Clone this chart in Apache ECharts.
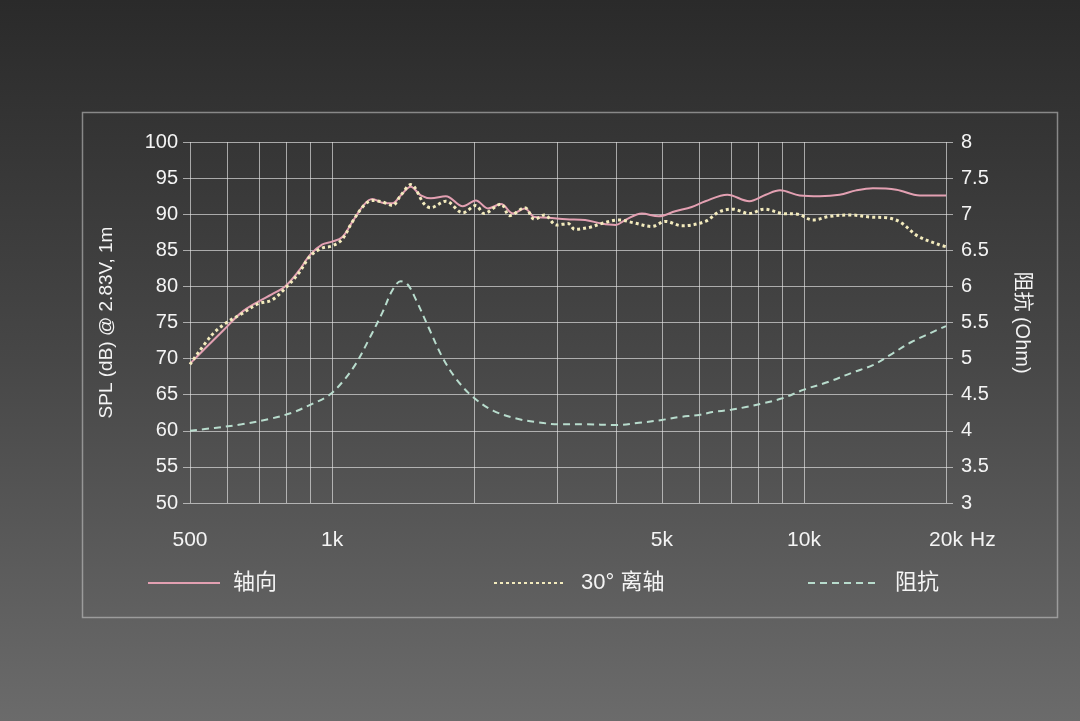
<!DOCTYPE html>
<html><head><meta charset="utf-8">
<script src="https://cdn.jsdelivr.net/npm/echarts@6/dist/echarts.min.js"></script>
<style>html,body{margin:0;padding:0;background:#444}#c{width:1080px;height:721px}</style>
</head><body><div id="c"></div>
<script>
// Frequency grid and labelled ticks (Hz)
const gridFreqs = [500,600,700,800,900,1000,2000,3000,4000,5000,6000,7000,8000,9000,10000,20000];
const labelFreqs = [500,1000,5000,10000,20000];

// 轴向 (on-axis SPL, dB)
const axialFreq = [500,540,590,643,698,745,795,849,899,952,1000,1050,1103,1168,1217,1278,1342,1398,1468,1542,1620,1742,1893,2017,2140,2280,2420,2562,2686,2874,3136,3438,3722,3988,4185,4533,4923,5335,5783,6180,6880,7660,8300,8900,9800,10800,11900,12900,14000,15700,17600,19300,20000];
const axialSPL  = [69.3,71.5,74.0,76.4,77.9,78.9,80.0,82.1,84.4,85.8,86.2,86.8,88.9,91.3,92.1,91.6,91.5,92.6,93.8,92.6,92.2,92.5,91.1,91.9,90.8,91.4,90.1,90.8,89.6,89.5,89.3,89.2,88.7,88.5,89.2,90.1,89.7,90.4,91.0,91.8,92.7,91.8,92.7,93.3,92.6,92.5,92.7,93.3,93.6,93.4,92.6,92.6,92.6];

// 30° 离轴 (off-axis SPL, dB)
const offFreq = [500,555,592,643,698,745,795,849,899,952,1000,1050,1103,1168,1217,1278,1342,1398,1468,1568,1617,1742,1893,2017,2100,2280,2380,2562,2686,2820,2990,3164,3270,3520,3722,4057,4360,4760,5090,5510,6180,6600,7060,7660,8240,9000,9700,10450,11340,12530,13850,15000,16000,17400,19300,20000];
const offSPL  = [69.2,73.2,74.8,76.2,77.6,78.1,79.7,81.8,84.2,85.3,85.6,86.5,88.9,91.2,91.9,91.7,91.2,92.6,94.1,91.4,90.9,91.8,90.2,91.2,90.1,91.4,89.8,90.9,89.3,89.9,88.5,88.7,87.9,88.2,88.7,89.2,88.8,88.3,89.0,88.4,89.0,90.3,90.7,90.1,90.7,90.1,90.0,89.2,89.7,89.9,89.6,89.5,88.9,87.0,85.8,85.5];

// 阻抗 (impedance, Ohm)
const impFreq = [500,564,643,733,822,906,984,1050,1121,1198,1279,1343,1398,1445,1505,1607,1716,1832,1987,2193,2458,2713,3041,3430,4000,4470,5000,5440,6000,6400,7000,7540,8180,9000,10000,11300,12700,14000,15400,16900,20000];
const impOhm  = [4.0,4.04,4.09,4.16,4.25,4.37,4.49,4.67,4.92,5.27,5.64,5.95,6.07,6.03,5.82,5.41,5.01,4.72,4.47,4.28,4.17,4.12,4.09,4.09,4.08,4.11,4.15,4.19,4.22,4.26,4.29,4.33,4.38,4.45,4.57,4.68,4.81,4.91,5.07,5.23,5.45];

const zip = (a, b) => a.map((v, i) => [v, b[i]]);
const FONT = '"Liberation Sans", "Noto Sans CJK SC", sans-serif';
const GRIDC = 'rgba(228,228,228,0.66)';
const TXT = '#f4f4f4';

const legendBase = {top: 567, itemWidth: 72, itemHeight: 14, itemStyle: {opacity: 0}};

const chart = echarts.init(document.getElementById('c'));
chart.setOption({
  animation: false,
  backgroundColor: new echarts.graphic.LinearGradient(0, 0, 0, 1, [
    {offset: 0, color: '#2a2a2a'},
    {offset: 0.5, color: '#474747'},
    {offset: 1, color: '#6b6b6b'}
  ]),
  graphic: [{
    type: 'rect', left: 80, top: 110, silent: true,
    shape: {width: 975, height: 505},
    style: {fill: 'none', stroke: 'rgba(205,205,205,0.55)', lineWidth: 1.5}
  }],
  grid: {left: 190, right: 134, top: 142, bottom: 218},
  legend: [
    Object.assign({left: 142, data: ['轴向'],
      textStyle: {color: TXT, fontSize: 22, fontFamily: FONT, padding: [0,0,0,8]}}, legendBase),
    Object.assign({left: 488, data: ['30° 离轴'],
      textStyle: {color: TXT, fontSize: 22, fontFamily: FONT, padding: [0,0,0,10]}}, legendBase),
    Object.assign({left: 802, data: ['阻抗'],
      textStyle: {color: TXT, fontSize: 22, fontFamily: FONT, padding: [0,0,0,10]}}, legendBase)
  ],
  xAxis: {
    type: 'log', logBase: 10, min: 500, max: 20000,
    name: 'Hz', nameLocation: 'end', nameGap: 24,
    nameTextStyle: {color: TXT, fontSize: 21, fontFamily: FONT, verticalAlign: 'top', padding: [27,0,0,0]},
    axisLine: {show: false},
    axisTick: {show: false, customValues: gridFreqs},
    axisLabel: {customValues: labelFreqs, color: TXT, fontSize: 21, fontFamily: FONT, margin: 27,
      formatter: v => v >= 1000 ? (v / 1000) + 'k' : String(v)},
    splitLine: {show: true, lineStyle: {color: GRIDC, width: 1}}
  },
  yAxis: [{
    type: 'value', min: 50, max: 100, interval: 5,
    name: 'SPL (dB) @ 2.83V, 1m', nameLocation: 'middle', nameGap: 74, nameRotate: 90,
    nameTextStyle: {color: TXT, fontSize: 19, fontFamily: FONT},
    axisLine: {show: false},
    axisTick: {show: true, length: 7, lineStyle: {color: GRIDC}},
    axisLabel: {color: TXT, fontSize: 20, fontFamily: FONT, margin: 12},
    splitLine: {show: true, lineStyle: {color: GRIDC, width: 1}}
  }, {
    type: 'value', min: 3, max: 8, interval: 0.5, position: 'right',
    name: '阻抗 (Ohm)', nameLocation: 'middle', nameGap: 66, nameRotate: -90,
    nameTextStyle: {color: TXT, fontSize: 20, fontFamily: FONT},
    axisLine: {show: false},
    axisTick: {show: true, length: 7, lineStyle: {color: GRIDC}},
    axisLabel: {color: TXT, fontSize: 20, fontFamily: FONT, margin: 15},
    splitLine: {show: false}
  }],
  series: [{
    name: '轴向', type: 'line', yAxisIndex: 0, symbol: 'none', smooth: 0.35,
    data: zip(axialFreq, axialSPL),
    itemStyle: {color: '#d98fa4'},
    lineStyle: {color: '#e3a0b2', width: 2}
  }, {
    name: '30° 离轴', type: 'line', yAxisIndex: 0, symbol: 'none', smooth: 0.35,
    data: zip(offFreq, offSPL),
    itemStyle: {color: '#efe4a8'},
    lineStyle: {color: '#f3ebbd', width: 3, type: [3, 3]}
  }, {
    name: '阻抗', type: 'line', yAxisIndex: 1, symbol: 'none', smooth: 0.35,
    data: zip(impFreq, impOhm),
    itemStyle: {color: '#7fb8a2'},
    lineStyle: {color: '#b8dccd', width: 2, type: [7, 5]}
  }]
});
</script></body></html>
